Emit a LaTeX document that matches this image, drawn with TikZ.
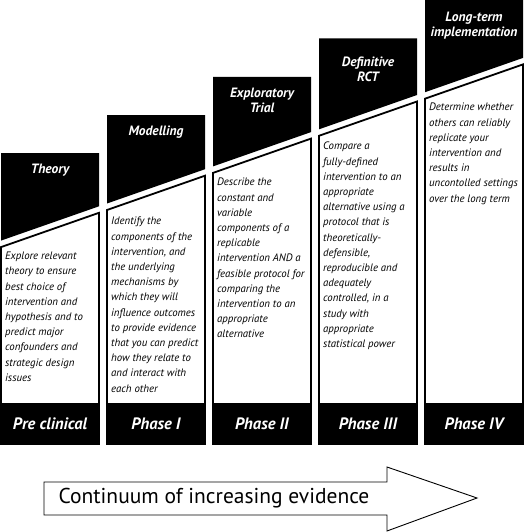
\documentclass[tikz,border=0pt]{standalone}
\usepackage{fontspec}
\setmainfont{PT Sans}
\usepackage{tikz}
\definecolor{nero}{gray}{0.0}

\tikzset{
  toppart/.style={fill=nero},
  bodybox/.style={draw=nero,line width=1.8pt,fill=white},
  phaseband/.style={fill=nero},
  heading/.style={text=white,font=\bfseries\itshape\fontsize{13.5}{15.5}\selectfont,align=center},
  bodytext/.style={font=\itshape\fontsize{10.8}{15.2}\selectfont,align=left,anchor=north west,inner sep=0pt},
  phaselabel/.style={text=white,font=\bfseries\itshape\fontsize{16.5}{18}\selectfont},
}

\begin{document}
\begin{tikzpicture}[x=1pt,y=-1pt]
  \useasboundingbox (0,0) rectangle (524,532);
  % Pre clinical
  \fill[toppart] (1,153) -- (99,153) -- (99,206.3) -- (1,240.6) -- cycle;
  \draw[bodybox] (1,247.1) -- (99,212.8) -- (99,444) -- (1,444) -- cycle;
  \fill[phaseband] (1,403) rectangle (99,444);
  \node[heading] (theory) at (50,170) {Theory};
  \node[bodytext] (theorytxt) at (5,252) {Explore relevant\\theory to ensure\\best choice of\\intervention and\\hypothesis and to\\predict major\\confounders and\\strategic design\\issues};
  \node[phaselabel] (preclin) at (50,424) {Pre clinical};
  % Phase I
  \fill[toppart] (107,115) -- (205,115) -- (205,169.2) -- (107,203.5) -- cycle;
  \draw[bodybox] (107,210) -- (205,175.7) -- (205,444) -- (107,444) -- cycle;
  \fill[phaseband] (107,403) rectangle (205,444);
  \node[heading] (model) at (156,132) {Modelling};
  \node[bodytext] (modeltxt) at (111,217) {Identify the\\components of the\\intervention, and\\the underlying\\mechanisms by\\which they will\\influence outcomes\\to provide evidence\\that you can predict\\how they relate to\\and interact with\\each other};
  \node[phaselabel] (phaseone) at (156,424) {Phase I};
  % Phase II
  \fill[toppart] (213,77) -- (311,77) -- (311,132.1) -- (213,166.4) -- cycle;
  \draw[bodybox] (213,172.9) -- (311,138.6) -- (311,444) -- (213,444) -- cycle;
  \fill[phaseband] (213,403) rectangle (311,444);
  \node[heading] (explor) at (262,100.5) {Exploratory\\Trial};
  \node[bodytext] (explortxt) at (217,178) {Describe the\\constant and\\variable\\components of a\\replicable\\intervention AND a\\feasible protocol for\\comparing the\\intervention to an\\appropriate\\alternative};
  \node[phaselabel] (phasetwo) at (262,424) {Phase II};
  % Phase III
  \fill[toppart] (319,38.5) -- (417,38.5) -- (417,95) -- (319,129.3) -- cycle;
  \draw[bodybox] (319,135.8) -- (417,101.5) -- (417,444) -- (319,444) -- cycle;
  \fill[phaseband] (319,403) rectangle (417,444);
  \node[heading] (rct) at (368,69.5) {Definitive\\RCT};
  \node[bodytext] (rcttxt) at (323,142) {Compare a\\fully-defined\\intervention to an\\appropriate\\alternative using a\\protocol that is\\theoretically-\\defensible,\\reproducible and\\adequately\\controlled, in a\\study with\\appropriate\\statistical power};
  \node[phaselabel] (phasethree) at (368,424) {Phase III};
  % Phase IV
  \fill[toppart] (425,0) -- (523,0) -- (523,57.9) -- (425,92.2) -- cycle;
  \draw[bodybox] (425,98.7) -- (523,64.4) -- (523,444) -- (425,444) -- cycle;
  \fill[phaseband] (425,403) rectangle (523,444);
  \node[heading] (longterm) at (474,25.5) {Long-term\\implementation};
  \node[bodytext] (longtermtxt) at (429,103) {Determine whether\\others can reliably\\replicate your\\intervention and\\results in\\uncontolled settings\\over the long term};
  \node[phaselabel] (phasefour) at (474,424) {Phase IV};
  % arrow of evidence
  \draw[line width=0.9pt,fill=white] (44,482) -- (387,482) -- (387,467) -- (477,498)
    -- (387,531) -- (387,515) -- (44,515) -- cycle;
  \node[font=\fontsize{21.5}{24}\selectfont] (evidence) at (214,498) {Continuum of increasing evidence};
\end{tikzpicture}
\end{document}
